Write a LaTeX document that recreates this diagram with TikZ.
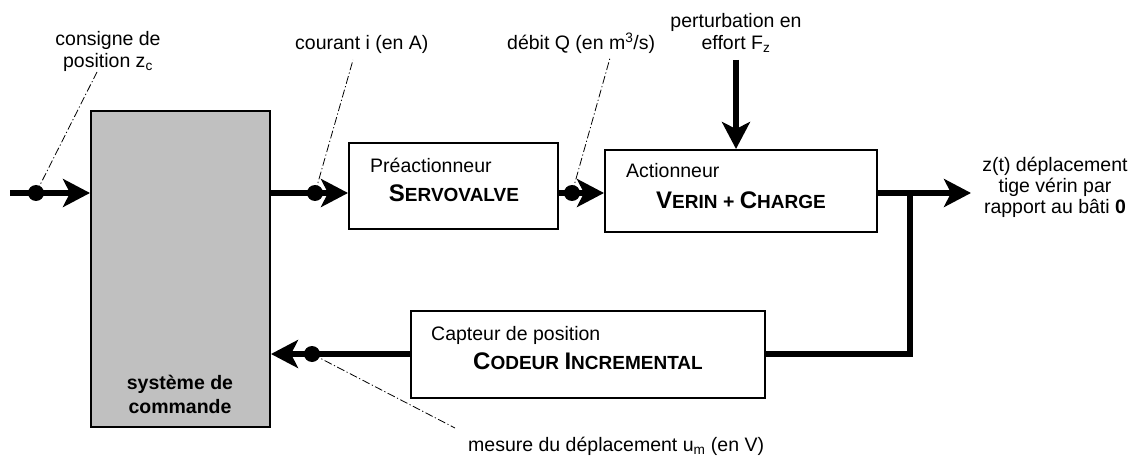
\documentclass[tikz,border=0pt]{standalone}
\usepackage{fontspec}
\setmainfont{Liberation Sans}
\usetikzlibrary{arrows.meta}
\newcommand\BigSmall[2]{{\fontsize{24}{24}\selectfont #1}{\fontsize{19}{19}\selectfont #2}}
\definecolor{cmdgrey}{HTML}{C0C0C0}
\begin{document}
\begin{tikzpicture}[x=1pt,y=-1pt,
  sig/.style={line width=5.5pt, -{Stealth[length=27pt,width=28pt,inset=7pt]}},
  wire/.style={line width=5.5pt},
  blk/.style={draw, line width=2pt, inner sep=0pt, fill=white},
  dot/.style={circle, fill=black, inner sep=0pt, minimum size=16pt},
  leader/.style={line width=0.8pt, dash pattern=on 8pt off 2.5pt on 1.2pt off 2.5pt},
  txt/.style={font=\fontsize{19.5}{22}\selectfont, inner sep=0pt},
  ]
\useasboundingbox (0,0) rectangle (1137,457);

% blocks
\node[blk, fill=cmdgrey, minimum width=179pt, minimum height=316pt] (cmd) at (180.5,269) {};
\node[blk, minimum width=209pt, minimum height=86pt] (servo) at (453.5,186) {};
\node[blk, minimum width=272pt, minimum height=82pt] (act) at (741,191) {};
\node[blk, minimum width=354pt, minimum height=87pt] (cod) at (588,354.5) {};

% block texts
\node[txt, anchor=north, align=center, font=\fontsize{19.5}{24}\selectfont\bfseries] (tcmd) at (180,375) {système de\\commande};
\node[txt, anchor=base west] (tpre) at (370,173) {Préactionneur};
\node[txt, anchor=base] (tsv) at (454,201) {\bfseries\BigSmall{S}{ERVOVALVE}};
\node[txt, anchor=base west] (tact) at (626,178) {Actionneur};
\node[txt, anchor=base] (tvc) at (741,208) {\bfseries\BigSmall{V}{ERIN} + \BigSmall{C}{HARGE}};
\node[txt, anchor=base west] (tcap) at (431,340) {Capteur de position};
\node[txt, anchor=base] (tci) at (588,369) {\bfseries\BigSmall{C}{ODEUR} \BigSmall{I}{NCREMENTAL}};

% coordinates
\coordinate (in) at (10,193);
\coordinate (out) at (971,193);
\coordinate (br) at (910,193);
\coordinate (fb) at (910,354);
\coordinate (pert) at (736,60);

% dots positions
\coordinate (p1) at (36,193);
\coordinate (p2) at (315,193);
\coordinate (p3) at (572,193);
\coordinate (p4) at (312,354);

% leaders
\coordinate (l1) at (97,72);
\coordinate (l2) at (353,60);
\coordinate (l3) at (610,58);
\coordinate (l4) at (455,428);
\draw[leader] (p1) -- (l1);
\draw[leader] (p2) -- (l2);
\draw[leader] (p3) -- (l3);
\draw[leader] (p4) -- (l4);

% signals
\draw[sig] (in) -- (in -| cmd.west);
\draw[sig] (in -| cmd.east) -- (in -| servo.west);
\draw[sig] (in -| servo.east) -- (in -| act.west);
\draw[sig] (in -| act.east) -- (out);
\draw[sig] (pert) -- (act.north -| pert);
\draw[wire] (br) -- (fb) -- (fb -| cod.east);
\draw[sig] (fb -| cod.west) -- (fb -| cmd.east);

% dots
\node[dot] (d1) at (p1) {};
\node[dot] (d2) at (p2) {};
\node[dot] (d3) at (p3) {};
\node[dot] (d4) at (p4) {};

% labels
\node[txt, anchor=north, align=center] (lcons) at (108,31) {consigne de\\position z\textsubscript{c}};
\node[txt, anchor=base west] (lcour) at (295,50) {courant i (en A)};
\node[txt, anchor=base west] (ldeb) at (507,50) {débit Q (en m\textsuperscript{3}/s)};
\node[txt, anchor=north, align=center] (lpert) at (736,13) {perturbation en\\effort F\textsubscript{z}};
\node[txt, anchor=north, align=center, font=\fontsize{19.5}{21}\selectfont] (lout) at (1055,157) {z(t) déplacement\\tige vérin par\\rapport au bâti \textbf{0}};
\node[txt, anchor=base west] (lmes) at (468,451) {mesure du déplacement u\textsubscript{m} (en V)};
\end{tikzpicture}
\end{document}
